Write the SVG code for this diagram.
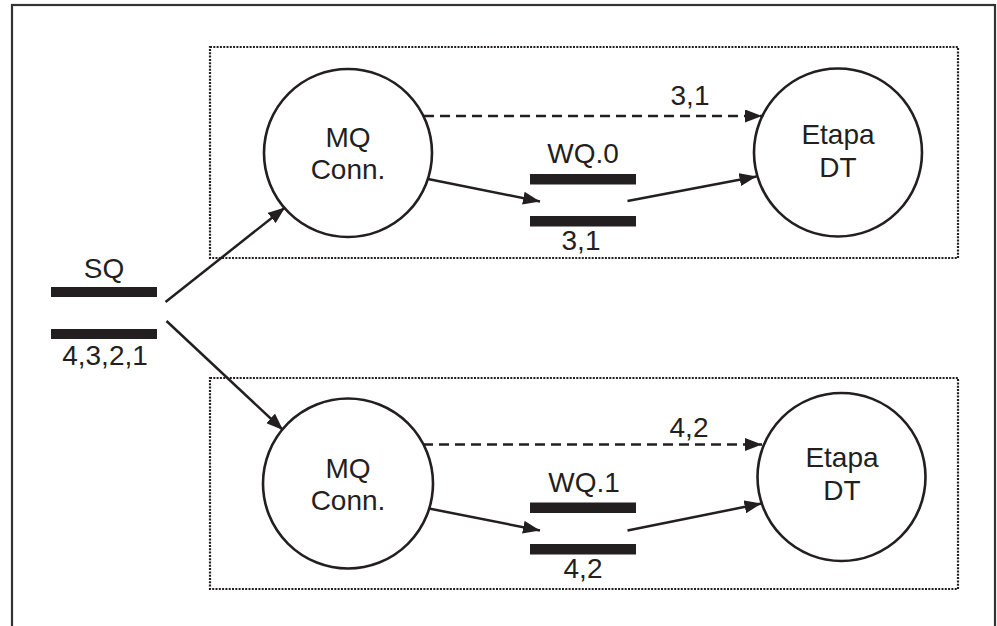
<svg xmlns="http://www.w3.org/2000/svg" width="997" height="626" viewBox="0 0 997 626">
  <style>
    .txt { font-family: "Liberation Sans", Arial, sans-serif; font-size: 28px; fill: #231f20; text-anchor: middle; }
    .node { fill: #ffffff; stroke: #231f20; stroke-width: 2.6; }
    .bar { fill: #231f20; }
    .group { fill: none; stroke: #231f20; stroke-width: 2.2; stroke-dasharray: 2 1.3; }
    .conn { fill: none; stroke: #231f20; stroke-width: 2.5; marker-end: url(#arrow); }
    .dashed { stroke-dasharray: 10 6; }
  </style>
  <defs>
    <marker id="arrow" viewBox="0 0 17 13" refX="17" refY="6.5" markerWidth="17" markerHeight="13" markerUnits="userSpaceOnUse" orient="auto">
      <path d="M0,0 L17,6.5 L0,13 z" fill="#231f20"/>
    </marker>
  </defs>

  <rect x="0" y="0" width="997" height="626" fill="#ffffff"/>
  <rect id="frame" x="12" y="5" width="983" height="640" fill="none" stroke="#333333" stroke-width="2.2"/>

  <g id="group-top"><rect class="group" x="210" y="47" width="748" height="211"/></g>
  <g id="group-bottom"><rect class="group" x="210" y="378" width="748" height="211"/></g>

  <g id="sq">
    <text class="txt" x="104" y="278">SQ</text>
    <rect class="bar" x="51" y="287" width="106" height="10"/>
    <rect class="bar" x="51" y="329" width="106" height="10"/>
    <text class="txt" x="105" y="365">4,3,2,1</text>
  </g>

  <g id="mq-top">
    <circle class="node" cx="348" cy="153" r="84"/>
    <text class="txt" x="348" y="147">MQ</text>
    <text class="txt" x="348" y="179">Conn.</text>
  </g>
  <g id="wq0">
    <text class="txt" x="583" y="163">WQ.0</text>
    <rect class="bar" x="530" y="174" width="106" height="10.5"/>
    <rect class="bar" x="530" y="216" width="106" height="10.5"/>
    <text class="txt" x="581" y="250">3,1</text>
  </g>
  <g id="etapa-top">
    <circle class="node" cx="838" cy="152.5" r="84"/>
    <text class="txt" x="838" y="144">Etapa</text>
    <text class="txt" x="838" y="177">DT</text>
  </g>

  <g id="mq-bottom">
    <circle class="node" cx="348" cy="483.5" r="85"/>
    <text class="txt" x="348" y="478">MQ</text>
    <text class="txt" x="348" y="510">Conn.</text>
  </g>
  <g id="wq1">
    <text class="txt" x="584" y="492">WQ.1</text>
    <rect class="bar" x="530" y="502.5" width="106" height="10.5"/>
    <rect class="bar" x="530" y="544" width="106" height="10.5"/>
    <text class="txt" x="583" y="578">4,2</text>
  </g>
  <g id="etapa-bottom">
    <circle class="node" cx="841.5" cy="477" r="84"/>
    <text class="txt" x="842" y="467">Etapa</text>
    <text class="txt" x="842" y="500">DT</text>
  </g>

  <g id="connectors">
    <line class="conn" x1="165.5" y1="302" x2="285" y2="207.5"/>
    <line class="conn" x1="166.5" y1="321" x2="283" y2="430"/>

    <line class="conn dashed" x1="424" y1="116" x2="762" y2="116"/>
    <line class="conn" x1="428" y1="179" x2="540" y2="201.5"/>
    <line class="conn" x1="627.5" y1="201" x2="756.5" y2="176.5"/>

    <line class="conn dashed" x1="423" y1="444.5" x2="762" y2="444.5"/>
    <line class="conn" x1="429" y1="508.5" x2="540" y2="530.5"/>
    <line class="conn" x1="627.5" y1="530.5" x2="761.5" y2="503.5"/>
  </g>
  <g id="labels">
    <text class="txt" x="690" y="105">3,1</text>
    <text class="txt" x="689" y="437">4,2</text>
  </g>
</svg>
